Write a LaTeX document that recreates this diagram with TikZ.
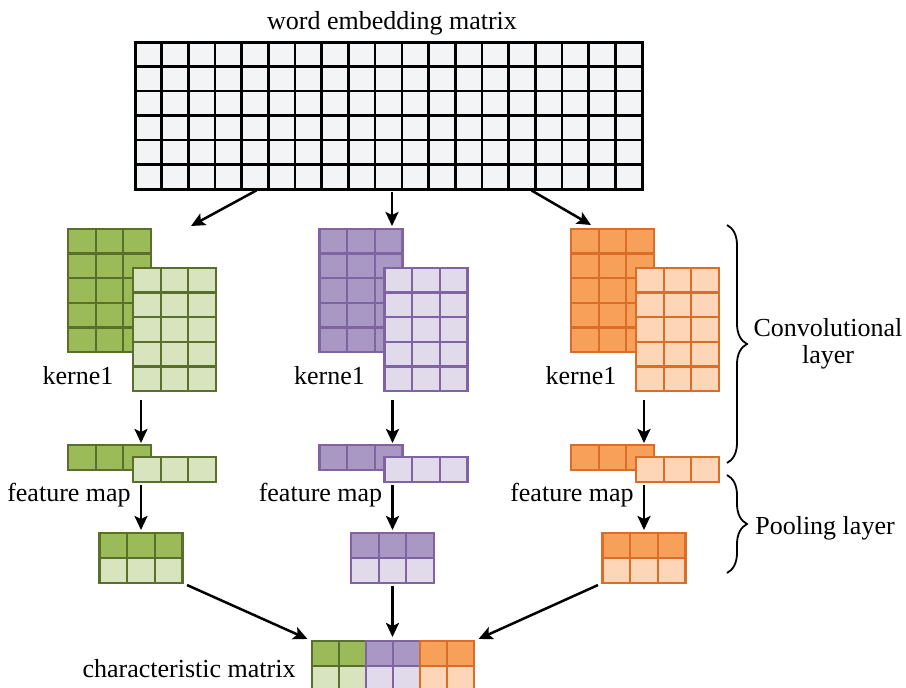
\documentclass[tikz,border=0pt]{standalone}
\usepackage{fontspec}
\setmainfont{Liberation Serif}
\usetikzlibrary{arrows.meta,decorations.pathreplacing}
\definecolor{wfill}{RGB}{243,244,246}
\definecolor{gdark}{RGB}{155,187,89}
\definecolor{glight}{RGB}{215,228,189}
\definecolor{gline}{RGB}{88,112,44}
\definecolor{pdark}{RGB}{169,151,196}
\definecolor{plight}{RGB}{224,218,235}
\definecolor{pline}{RGB}{128,100,162}
\definecolor{odark}{RGB}{247,160,90}
\definecolor{olight}{RGB}{252,214,183}
\definecolor{oline}{RGB}{218,110,40}
\begin{document}
\begin{tikzpicture}[x=1pt,y=-1pt,
  lbl/.style={inner sep=0pt,font=\fontsize{26}{27}\selectfont},
  blk/.style={inner sep=0pt,outer sep=0pt},
  cell/.style={line width=2.3pt},
  arr/.style={-{Stealth[length=14pt,width=13pt,inset=3pt]},line width=2.5pt},
  brc/.style={decorate,decoration={brace,amplitude=20pt},line width=1.8pt}]
\useasboundingbox (0,0) rectangle (906,688);
% word embedding matrix
\node[lbl] (title) at (392,23) {word embedding matrix};
\node[blk,draw,fill=wfill,line width=3pt,minimum width=507pt,minimum height=147pt] (wem) at (388.5,115.5) {};
\foreach \i in {1,...,18}
  \draw[line width=2.6pt] (135+\i*26.684,42) -- ++(0,147);
\foreach \j in {1,...,5}
  \draw[line width=2.6pt] (135,42+\j*24.5) -- ++(507,0);
\coordinate (tip-left) at (191,226);
\coordinate (tip-mid) at (392,226);
\coordinate (tip-right) at (591,225);
\draw[arr,shorten <=3pt] ([xshift=-129.5pt]wem.south) -- (tip-left);
\draw[arr,shorten <=3pt] ([xshift=3.5pt]wem.south) -- (tip-mid);
\draw[arr,shorten <=3pt] ([xshift=140.5pt]wem.south) -- (tip-right);
% three branches
\foreach \gx/\dkc/\ltc/\lnc/\nm in {68/gdark/glight/gline/left,
    319.5/pdark/plight/pline/mid, 571/odark/olight/oline/right}{
  % kernel
  \node[blk,fill=\dkc,minimum width=83pt,minimum height=123pt] (kb-\nm) at (\gx+41.5,290.5) {};
  \foreach \i in {0,1,2} \foreach \j in {0,...,4}
    \draw[cell,draw=\lnc] (\gx+\i*27.667,229+\j*24.6) rectangle ++(27.667,24.6);
  \node[blk,fill=\ltc,minimum width=83pt,minimum height=123pt] (kf-\nm) at (\gx+106.5,329.5) {};
  \foreach \i in {0,1,2} \foreach \j in {0,...,4}
    \draw[cell,draw=\lnc] (\gx+65+\i*27.667,268+\j*24.6) rectangle ++(27.667,24.6);
  \node[lbl] (kl-\nm) at (\gx+10,376) {kerne1};
  % feature map
  \node[blk,fill=\dkc,minimum width=83pt,minimum height=25pt] (fb-\nm) at (\gx+41.5,457.5) {};
  \foreach \i in {0,1,2}
    \draw[cell,draw=\lnc] (\gx+\i*27.667,445) rectangle ++(27.667,25);
  \node[blk,fill=\ltc,minimum width=83pt,minimum height=25pt] (ff-\nm) at (\gx+106.5,469.5) {};
  \foreach \i in {0,1,2}
    \draw[cell,draw=\lnc] (\gx+65+\i*27.667,457) rectangle ++(27.667,25);
  \node[lbl] (fl-\nm) at (\gx+1,495) {feature map};
  % pooling
  \node[blk,fill=\ltc,minimum width=83pt,minimum height=50pt] (pool-\nm) at (\gx+73,558) {};
  \foreach \i in {0,1,2}{
    \draw[cell,draw=\lnc,fill=\dkc] (\gx+31.5+\i*27.667,533) rectangle ++(27.667,25);
    \draw[cell,draw=\lnc] (\gx+31.5+\i*27.667,558) rectangle ++(27.667,25);
  }
  \coordinate (ax-\nm) at (\gx+73,0);
  \draw[arr,shorten <=9pt,shorten >=2pt] (kf-\nm.south -| ax-\nm) -- (fb-\nm.north -| ax-\nm);
  \draw[arr,shorten <=3pt,shorten >=3pt] (ff-\nm.south -| ax-\nm) -- (pool-\nm.north -| ax-\nm);
}
% characteristic matrix
\node[blk,minimum width=162pt,minimum height=50pt] (cm) at (393,666) {};
\foreach \i/\dkc/\ltc/\lnc in {0/gdark/glight/gline, 1/gdark/glight/gline,
    2/pdark/plight/pline, 3/pdark/plight/pline, 4/odark/olight/oline, 5/odark/olight/oline}{
  \draw[cell,draw=\lnc,fill=\dkc] (312+\i*27,641) rectangle ++(27,25);
  \draw[cell,draw=\lnc,fill=\ltc] (312+\i*27,666) rectangle ++(27,25);
}
\node[lbl] (cml) at (189,669) {characteristic matrix};
\draw[arr,shorten <=5pt,shorten >=5pt] (pool-left.south east) -- (cm.north west);
\draw[arr,shorten <=3pt,shorten >=4pt] (pool-mid.south) -- (pool-mid.south |- cm.north);
\draw[arr,shorten <=5pt,shorten >=5pt] (pool-right.south west) -- (cm.north east);
% layer braces
\draw[brc] (727,225) -- (727,463);
\draw[brc] (727,475) -- (727,573);
\node[lbl,align=center] (conv) at (828,344) {Convolutional\\layer};
\node[lbl] (pooltxt) at (825,528) {Pooling layer};
\end{tikzpicture}
\end{document}
